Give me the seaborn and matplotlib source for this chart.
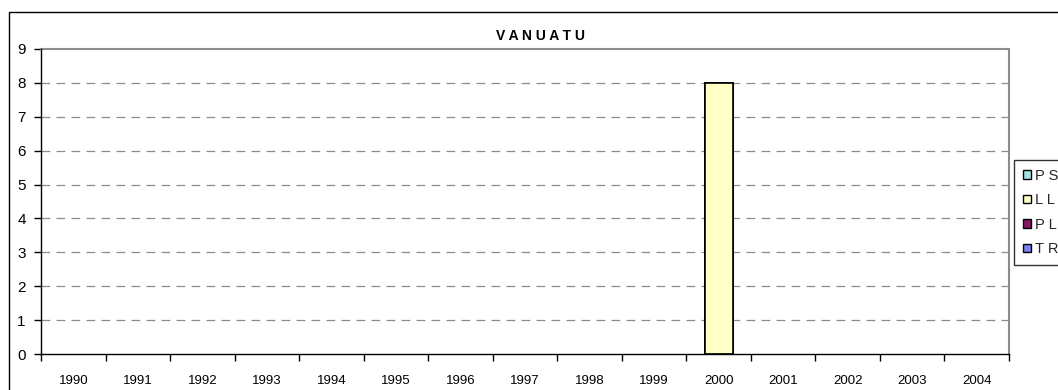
import matplotlib
matplotlib.use("Agg")
import matplotlib.pyplot as plt
from matplotlib.patches import Rectangle, Patch
from matplotlib.ticker import FixedLocator
import numpy as np
import pandas as pd
import seaborn as sns

years = ["1990", "1991", "1992", "1993", "1994", "1995", "1996", "1997",
         "1998", "1999", "2000", "2001", "2002", "2003", "2004"]
ps = [0, 0, 0, 0, 0, 0, 0, 0, 0, 0, 0, 0, 0, 0, 0]
ll = [0, 0, 0, 0, 0, 0, 0, 0, 0, 0, 8, 0, 0, 0, 0]
pl = [0, 0, 0, 0, 0, 0, 0, 0, 0, 0, 0, 0, 0, 0, 0]
tr = [0, 0, 0, 0, 0, 0, 0, 0, 0, 0, 0, 0, 0, 0, 0]
series_names = ["PS", "LL", "PL", "TR"]
series_colors = ["#A6E3E3", "#FFFFC6", "#851A60", "#8080F0"]
title = "V A N U A T U"

sns.set_theme(style="white")
plt.rcParams["font.family"] = ["Liberation Sans", "DejaVu Sans"]

W, H = 1058, 390
fig = plt.figure(figsize=(W / 100, H / 100), dpi=100)
ax = fig.add_axes([41 / W, 1 - 354 / H, (1009 - 41) / W, (354 - 49) / H])

# stacked bars: draw cumulative totals from the top series down
values = [ps, ll, pl, tr]
cum = np.cumsum(np.array(values, dtype=float), axis=0)
for i in reversed(range(len(series_names))):
    df = pd.DataFrame({"year": years, "value": cum[i]})
    sns.barplot(data=df, x="year", y="value", order=years, color=series_colors[i],
                width=0.434, edgecolor="black", linewidth=1.2, saturation=1,
                errorbar=None, ax=ax, zorder=3)

# empty segments carry no outline
for p in ax.patches:
    if p.get_height() == 0:
        p.set_linewidth(0)

ax.set_xlim(-0.5, len(years) - 0.5)
ax.set_ylim(0, 9)
ax.set_yticks(range(0, 10))
ax.set_xlabel("")
ax.set_ylabel("")

# dashed horizontal gridlines
for yv in range(1, 9):
    ax.axhline(yv, color="#8C8C8C", lw=0.9, ls=(0, (7, 5)), zorder=1)

for side in ["top", "right"]:
    ax.spines[side].set_visible(True)
    ax.spines[side].set_color("#8C8C8C")
    ax.spines[side].set_linewidth(1.5)
for side in ["left", "bottom"]:
    ax.spines[side].set_visible(True)
    ax.spines[side].set_color("black")
    ax.spines[side].set_linewidth(1.0)
    ax.spines[side].set_zorder(4)

ax.tick_params(axis="y", which="major", direction="out", length=5, width=1,
               color="black", labelsize=11, pad=6, left=True)
ax.tick_params(axis="x", which="major", length=0, labelsize=9.5, pad=15)
ax.xaxis.set_minor_locator(FixedLocator(np.arange(-0.5, len(years), 1.0)))
ax.tick_params(axis="x", which="minor", direction="out", length=5, width=1,
               color="black", bottom=True)
for lab in ax.get_xticklabels() + ax.get_yticklabels():
    lab.set_color("black")

fig.text(541 / W, 1 - 36 / H, title, ha="center", va="center",
         fontsize=10, fontweight="bold", color="black")

handles = [Patch(facecolor=c, edgecolor="black", linewidth=1.0) for c in series_colors]
leg = fig.legend(handles, ["P S", "L L", "P L", "T R"], loc="upper left",
                 bbox_to_anchor=(1014 / W, 1 - 160 / H), frameon=True,
                 fancybox=False, fontsize=10.5, handlelength=0.55, handleheight=0.55,
                 handletextpad=0.3, labelspacing=0.72, borderpad=0.6,
                 borderaxespad=0)
leg.get_frame().set_edgecolor("black")
leg.get_frame().set_linewidth(1.0)

# outer chart border
fig.patches.append(Rectangle((9 / W, -0.2), 2.0, 1 - 12 / H + 0.2,
                             transform=fig.transFigure, fill=False,
                             edgecolor="black", linewidth=1.0))

fig.savefig("out.png", dpi=100)
